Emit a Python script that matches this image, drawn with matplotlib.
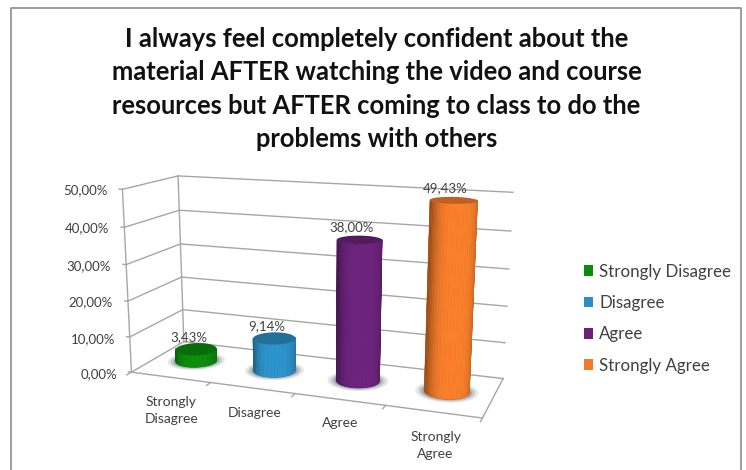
import numpy as np
import matplotlib
matplotlib.use('Agg')
import matplotlib.pyplot as plt
from matplotlib.colors import to_rgb
from matplotlib.patches import Patch
from mpl_toolkits.mplot3d import proj3d
from mpl_toolkits.mplot3d.art3d import Poly3DCollection

categories = ['Strongly\nDisagree', 'Disagree', 'Agree', 'Strongly\nAgree']
legend_labels = ['Strongly Disagree', 'Disagree', 'Agree', 'Strongly Agree']
values = [3.43, 9.14, 38.00, 49.43]
z_ticks = [0, 10, 20, 30, 40, 50]
body_colors = ['#0b8a0b', '#2b8fc6', '#6a2279', '#f27b2a']
title = ('I always feel completely confident about the\n'
         'material AFTER watching the video and course\n'
         'resources but AFTER coming to class to do the\n'
         'problems with others')

plt.rcParams['font.family'] = ['Lato', 'DejaVu Sans']

# camera and box fitted against the corners of the reference chart
ELEV, AZIM, ROLL, FOCAL = 13.8449, -69.7299, -0.0389, 0.4185
BOX_Y, BOX_Z = 1.2547, 2.1095
SX, TX, SY, TY = 2239.52, 315.60, 2217.61, 285.32
W, H = 746, 470

fig = plt.figure(figsize=(W / 100, H / 100), dpi=100)
ax = fig.add_axes([0, 0, 1, 1], projection='3d', computed_zorder=False)
ax.apply_aspect = lambda position=None: None  # the box is a bit wider than square
ax.set_position([(TX - SX * 0.095) / W, 1 - (TY + SY * 0.095) / H, SX * 0.185 / W, SY * 0.185 / H])
ax.set_xlim(0, 4)
ax.set_ylim(0, 1)
ax.set_zlim(0, 50)
ax.view_init(elev=ELEV, azim=AZIM, roll=ROLL)
ax.set_proj_type('persp', focal_length=FOCAL)
ax.set_box_aspect((4, BOX_Y, BOX_Z))
ax.set_axis_off()
M = ax.get_proj()


def seg(p, q):
    ax.plot([p[0], q[0]], [p[1], q[1]], [p[2], q[2]], color='#a6a6a6', lw=1, zorder=1, clip_on=False)


def label(x, y, z, s, **kw):
    # place a flat text at a 3d data position
    px, py, _ = proj3d.proj_transform(x, y, z, M)
    ax.text2D(px, py, s, transform=ax.transData, clip_on=False, color='#404040', **kw)


def shade(col, factor):
    return np.clip(np.array(to_rgb(col)) * factor, 0, 1)


# Walls, floor and ticks
for z in z_ticks:
    seg((0, 1, z), (4, 1, z))
    seg((0, 0, z), (0, 1, z))
    seg((0, 0, z), (-0.04, 0, z))
    label(-0.12, -0.09, z, f'{z},00%', ha='right', va='center', fontsize=9.5)
seg((0, 0, 0), (0, 0, 50))
seg((0, 1, 0), (0, 1, 50))
seg((0, 0, 0), (4, 0, 0))
seg((4, 0, 0), (4, 1, 0))
for i in range(5):
    seg((i, 0, 0), (i, -0.08, 0))

# Cylinders
R = 0.24
theta = np.linspace(0, 2 * np.pi, 145)
view = np.radians(AZIM)
for i, (val, col) in enumerate(zip(values, body_colors)):
    x0, y0 = i + 0.5, 0.5
    ex = x0 + R * np.cos(theta)
    ey = y0 + R / BOX_Y * np.sin(theta)

    # soft shadow on the floor
    for k, a in zip([1.4, 1.25, 1.12], [0.14, 0.2, 0.3]):
        disc = list(zip(x0 + k * R * np.cos(theta), y0 + k * R / BOX_Y * np.sin(theta), np.zeros_like(theta)))
        ax.add_collection3d(Poly3DCollection([disc], facecolor='#4a5560', edgecolor='none', alpha=a, zorder=2))

    # side, front half only, darker towards the silhouette
    t_side = theta[::3]
    sx = x0 + R * np.cos(t_side)
    sy = y0 + R / BOX_Y * np.sin(t_side)
    faces, colors = [], []
    for j in range(len(t_side) - 1):
        mid = 0.5 * (t_side[j] + t_side[j + 1])
        if np.cos(mid - view) < -0.15:
            continue
        faces.append([(sx[j], sy[j], 0), (sx[j + 1], sy[j + 1], 0), (sx[j + 1], sy[j + 1], val), (sx[j], sy[j], val)])
        side = np.sin(mid - view)
        colors.append(shade(col, 0.72 + 0.32 * (1 - abs(side - 0.1) ** 4)))
    # flat layer underneath so no seams show between the shaded strips
    base = shade(col, 0.85)
    ax.add_collection3d(Poly3DCollection(faces, facecolor=base, edgecolor=base, linewidths=0.4, zorder=3 + i))
    ax.add_collection3d(Poly3DCollection(faces, facecolors=colors, edgecolor='none', linewidths=0, zorder=3.2 + i))

    cap = list(zip(ex, ey, np.full_like(theta, val)))
    ax.add_collection3d(Poly3DCollection([cap], facecolor=shade(col, 0.78), edgecolor='none', zorder=3.5 + i))
    label(x0 - 0.09, y0, val + 1.5, f'{val:.2f}%'.replace('.', ','), ha='center', va='bottom', fontsize=9.5, zorder=10)

label_pos = [(1.0, -0.71), (1.82, -0.52), (2.72, -0.49), (3.72, -0.66)]
for (x, y), name in zip(label_pos, categories):
    label(x, y, 0, name, ha='center', va='center', fontsize=10, linespacing=1.55)

fig.text(376.5 / W, 1 - 89 / H, title, ha='center', va='center', fontsize=18.4, fontweight='bold', color='#111111', linespacing=1.48)

handles = [Patch(facecolor=c, edgecolor='none') for c in body_colors]
fig.legend(handles, legend_labels, loc='upper left', bbox_to_anchor=(568.5 / W, 1 - 248.5 / H), frameon=False,
           fontsize=12.2, handlelength=0.55, handleheight=0.6, handletextpad=0.36, labelspacing=0.9, labelcolor='#404040')

# frame around the slide
fig.add_artist(plt.Line2D([10.5 / W, 10.5 / W, 741 / W, 741 / W], [0, 1 - 8 / H, 1 - 8 / H, 0], color='#8c8c8c', lw=1.2))

fig.savefig('out.png', dpi=100)
